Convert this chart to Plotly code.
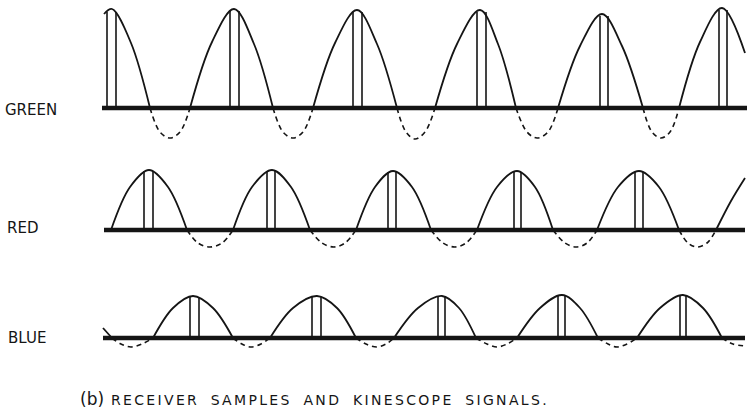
import plotly.graph_objects as go

# ---------------- data ----------------
# Signal key points: time position and amplitude relative to the baseline
GREEN_T = [104, 112, 131, 150, 160, 170, 180, 190, 212, 234, 254, 273, 283, 293, 303, 313,
           335, 357, 377, 397, 406, 415, 425, 435, 457, 480, 498, 516, 527, 537, 548, 558,
           580, 602, 622, 643, 652, 661, 670, 679, 700, 722, 745]
GREEN_V = [94, 99, 65, 0, -24, -30, -24, 0, 66, 99, 64, 0, -24, -30, -24, 0,
           65, 98, 64, 0, -24, -31, -24, 0, 64, 98, 64, 0, -24, -30, -24, 0,
           62, 94, 62, 0, -24, -30, -24, 0, 66, 100, 55]

RED_T = [111, 130, 149, 168, 187, 198, 210, 222, 233, 252, 272, 291, 310, 322, 334, 345,
         356, 375, 393, 412, 431, 443, 455, 466, 477, 497, 517, 535, 553, 565, 576, 587,
         597, 618, 639, 659, 679, 688, 697, 707, 716, 731, 745]
RED_V = [0, 43, 60, 43, 0, -13, -17, -13, 0, 43, 60, 43, 0, -13, -17, -13,
         0, 43, 59, 43, 0, -13, -17, -13, 0, 43, 59, 43, 0, -13, -17, -13,
         0, 43, 59, 43, 0, -13, -17, -13, 0, 29, 52]

BLUE_T = [103, 112, 121, 131, 142, 153, 173, 193, 213, 233, 242, 251, 261, 270,
          293, 317, 337, 356, 366, 377, 386, 394, 418, 442, 459, 476, 487, 497, 507, 517,
          540, 562, 580, 598, 608, 617, 627, 637, 660, 683, 703, 722, 733, 745]
BLUE_V = [10, 0, -6, -9, -6, 0, 30, 42, 30, 0, -6, -9, -6, 0,
          30, 42, 30, 0, -6, -9, -6, 0, 30, 42, 30, 0, -6, -9, -6, 0,
          30, 43, 30, 0, -6, -9, -6, 0, 30, 43, 30, 0, -6, -8]

# Receiver sample pulses: left / right edge times and pulse height
GREEN_PULSE_L = [107, 230, 353, 477, 600, 719]
GREEN_PULSE_R = [116, 239, 362, 486, 608, 727]
GREEN_PULSE_H = [96, 97, 96, 96, 92, 98]

RED_PULSE_L = [144, 267, 388, 514, 635]
RED_PULSE_R = [153, 275, 396, 521, 643]
RED_PULSE_H = [59, 59, 58, 58, 58]

BLUE_PULSE_L = [190, 312, 438, 558, 680]
BLUE_PULSE_R = [199, 321, 445, 565, 686]
BLUE_PULSE_H = [41, 41, 41, 42, 42]

# Baseline extents (time)
GREEN_BASE = [102, 747]
RED_BASE = [104, 745]
BLUE_BASE = [103, 745]

LABELS = ["GREEN", "RED", "BLUE"]
CAPTION_TAG = "(b)"
CAPTION_WORDS = ["RECEIVER", "SAMPLES", "AND", "KINESCOPE", "SIGNALS."]

# ---------------- layout helpers ----------------
W, H = 748, 410
INK = "#151515"
FONT = "DejaVu Sans"

# panel pixel geometry: (baseline y, top y, bottom y)
PANELS = [(108, 0, 152), (230, 152, 272), (338, 272, 372)]
LABEL_POS = [(4, 109.5), (6, 227.5), (7, 337.5)]

rows = [
    (GREEN_T, GREEN_V, GREEN_PULSE_L, GREEN_PULSE_R, GREEN_PULSE_H, GREEN_BASE),
    (RED_T, RED_V, RED_PULSE_L, RED_PULSE_R, RED_PULSE_H, RED_BASE),
    (BLUE_T, BLUE_V, BLUE_PULSE_L, BLUE_PULSE_R, BLUE_PULSE_H, BLUE_BASE),
]


def split_segments(t, v):
    segs, cur = [], [0]
    for i in range(1, len(t)):
        cur.append(i)
        if v[i] == 0 and i != len(t) - 1:
            segs.append(cur)
            cur = [i]
    if len(cur) > 1:
        segs.append(cur)
    return segs


fig = go.Figure()
layout_axes = {}

for k, (t, v, pl, pr, ph, base) in enumerate(rows):
    yname = "y" if k == 0 else f"y{k + 1}"
    axkey = "yaxis" if k == 0 else f"yaxis{k + 1}"
    b, top, bot = PANELS[k]
    layout_axes[axkey] = dict(
        domain=[1 - bot / H, 1 - top / H],
        range=[-(bot - b), b - top],
        visible=False, fixedrange=True, anchor="x",
    )

    # baseline
    fig.add_trace(go.Scatter(x=base, y=[0, 0], mode="lines", yaxis=yname,
                             line=dict(color=INK, width=4.5),
                             hoverinfo="skip", showlegend=False))

    # signal: solid above the baseline, dashed below
    for seg in split_segments(t, v):
        xs = [t[i] for i in seg]
        ys = [v[i] for i in seg]
        below = sum(ys) < 0
        fig.add_trace(go.Scatter(
            x=xs, y=ys, mode="lines", yaxis=yname,
            line=dict(color=INK, width=1.8 if not below else 1.6,
                      shape="spline", smoothing=1.0,
                      dash="5px,4px" if below else "solid"),
            hoverinfo="skip", showlegend=False))

    # sample pulses
    px, py = [], []
    for a, c, h in zip(pl, pr, ph):
        px += [a, a, None, c, c, None]
        py += [0, h, None, 0, h, None]
    fig.add_trace(go.Scatter(x=px, y=py, mode="lines", yaxis=yname,
                             line=dict(color=INK, width=1.6),
                             hoverinfo="skip", showlegend=False))

annotations = []
for lab, (lx, ly) in zip(LABELS, LABEL_POS):
    annotations.append(dict(
        text=lab, xref="paper", yref="paper", x=lx / W, y=1 - ly / H,
        xanchor="left", yanchor="middle", showarrow=False, borderpad=0,
        font=dict(family=FONT, size=15, color=INK)))

gap = "\u2006"
word_sep = gap + "\u2002" + gap + gap
caption = word_sep.join(gap.join(list(w)) for w in CAPTION_WORDS)
annotations.append(dict(
    text=CAPTION_TAG, xref="paper", yref="paper", x=79 / W, y=1 - 399 / H,
    xanchor="left", yanchor="middle", showarrow=False, borderpad=0,
    font=dict(family=FONT, size=17, color=INK)))
annotations.append(dict(
    text=caption, xref="paper", yref="paper", x=110 / W, y=1 - 400 / H,
    xanchor="left", yanchor="middle", showarrow=False, borderpad=0,
    font=dict(family=FONT, size=14, color=INK)))

fig.update_layout(
    width=W, height=H,
    margin=dict(l=0, r=0, t=0, b=0),
    paper_bgcolor="white", plot_bgcolor="white",
    xaxis=dict(range=[0, W], visible=False, fixedrange=True, domain=[0, 1]),
    annotations=annotations,
    showlegend=False,
    **layout_axes,
)

fig.write_html(
    "out.html",
    config={"displayModeBar": False, "staticPlot": True},
    post_script="document.body.style.margin='0';document.body.style.overflow='hidden';",
)
